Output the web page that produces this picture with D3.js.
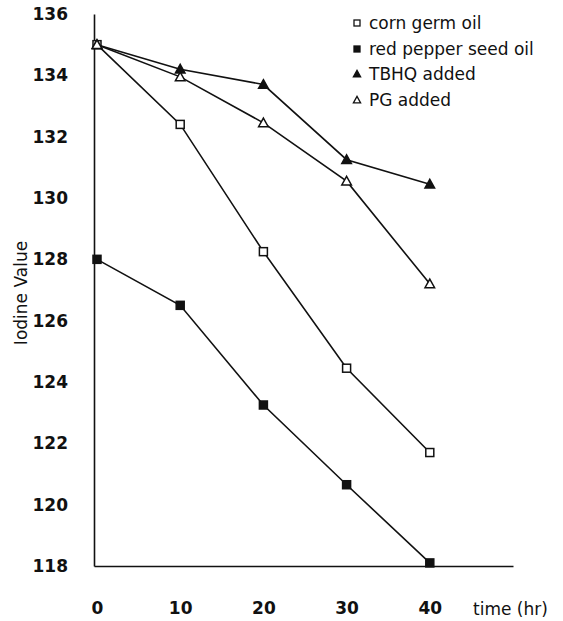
<!DOCTYPE html>
<html>
<head>
<meta charset="utf-8">
<script src="https://cdn.jsdelivr.net/npm/d3@7"></script>
<style>
  body { margin: 0; background: #fff; }
  text { font-family: "DejaVu Sans", sans-serif; fill: #111; }
</style>
</head>
<body>
<script>
let w = 563;
let h = 621;

let times = [0, 10, 20, 30, 40];
let cornGerm = [135, 132.4, 128.25, 124.45, 121.7];
let redPepper = [128, 126.5, 123.25, 120.65, 118.1];
let tbhq = [135, 134.2, 133.7, 131.25, 130.45];
let pg = [135, 133.95, 132.45, 130.55, 127.2];
let yTicks = [118, 120, 122, 124, 126, 128, 130, 132, 134, 136];
let seriesNames = ["corn germ oil", "red pepper seed oil", "TBHQ added", "PG added"];

let series = [
  {name: seriesNames[0], values: cornGerm, shape: "square", fill: "#fff"},
  {name: seriesNames[1], values: redPepper, shape: "square", fill: "#111"},
  {name: seriesNames[2], values: tbhq, shape: "triangle", fill: "#111"},
  {name: seriesNames[3], values: pg, shape: "triangle", fill: "#fff"}
];

let xScale = d3.scaleLinear().domain([-0.36, 50]).range([94, 513]);
let yScale = d3.scaleLinear().domain([118, 136]).range([566, 14]);

let svg = d3.select("body").append("svg")
            .attr("width", w)
            .attr("height", h);

// axes
let xAxis = svg.append("g")
   .attr("transform", "translate(0,566)")
   .call(d3.axisBottom(xScale).tickValues(times).tickSize(0).tickPadding(36).tickSizeOuter(0));
let yAxis = svg.append("g")
   .attr("transform", "translate(94,0)")
   .call(d3.axisLeft(yScale).tickValues(yTicks).tickSize(0).tickPadding(26).tickSizeOuter(0));

[xAxis, yAxis].forEach(function(a) {
  a.select(".domain").attr("stroke", "#111").attr("stroke-width", 1.6);
  a.selectAll("text")
   .attr("font-family", "DejaVu Sans, sans-serif")
   .attr("font-size", "17px")
   .attr("font-weight", "bold")
   .attr("fill", "#111");
});

svg.append("text")
   .attr("x", 473)
   .attr("y", 615)
   .attr("font-size", "17px")
   .text("time (hr)");

svg.append("text")
   .attr("transform", "translate(27,293) rotate(-90)")
   .attr("text-anchor", "middle")
   .attr("font-size", "17px")
   .text("Iodine Value");

let line = d3.line()
  .x(function(d, i) { return xScale(times[i]); })
  .y(function(d) { return yScale(d); });

function marker(sel, shape, size) {
  if (shape === "square") {
    sel.append("rect")
       .attr("x", -size / 2).attr("y", -size / 2)
       .attr("width", size).attr("height", size);
  } else {
    let s = size * 0.6;
    sel.append("path")
       .attr("d", "M0," + (-s) + "L" + s + "," + (s * 0.8) + "L" + (-s) + "," + (s * 0.8) + "Z");
  }
}

series.forEach(function(s) {
  svg.append("path")
     .attr("d", line(s.values))
     .attr("fill", "none")
     .attr("stroke", "#111")
     .attr("stroke-width", 1.6);
});

series.forEach(function(s) {
  svg.selectAll(null)
     .data(s.values)
     .enter()
     .append("g")
     .attr("transform", function(d, i) {
         return "translate(" + xScale(times[i]) + "," + yScale(d) + ")";
     })
     .each(function() {
         marker(d3.select(this), s.shape, 8);
     })
     .selectAll("rect, path")
     .attr("fill", s.fill)
     .attr("stroke", "#111")
     .attr("stroke-width", 1.5);
});

// legend
let legendY = [23, 49, 74, 100];
let legend = svg.selectAll(".legend")
   .data(series)
   .enter()
   .append("g")
   .attr("class", "legend")
   .attr("transform", function(d, i) { return "translate(357," + legendY[i] + ")"; });

legend.each(function(d) {
  marker(d3.select(this), d.shape, 6);
});
legend.selectAll("rect, path")
   .attr("fill", function() { return d3.select(this.parentNode).datum().fill; })
   .attr("stroke", "#111")
   .attr("stroke-width", 1.3);
legend.append("text")
   .attr("x", 12)
   .attr("y", 6)
   .attr("font-size", "17px")
   .text(function(d) { return d.name; });
</script>
</body>
</html>
